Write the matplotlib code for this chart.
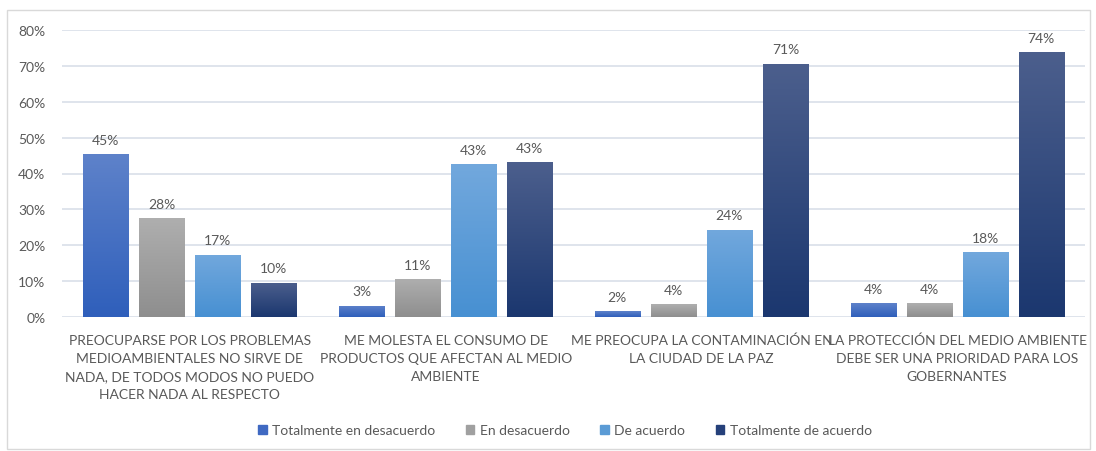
import matplotlib
matplotlib.use("Agg")
import matplotlib.pyplot as plt
import numpy as np
from matplotlib.colors import LinearSegmentedColormap
from matplotlib.patches import Rectangle
from matplotlib.ticker import PercentFormatter

categories = [
    "PREOCUPARSE POR LOS PROBLEMAS\nMEDIOAMBIENTALES NO SIRVE DE\nNADA, DE TODOS MODOS NO PUEDO\nHACER NADA AL RESPECTO",
    "ME MOLESTA EL CONSUMO DE\nPRODUCTOS QUE AFECTAN AL MEDIO\nAMBIENTE",
    "ME PREOCUPA LA CONTAMINACIÓN EN\nLA CIUDAD DE LA PAZ",
    "LA PROTECCIÓN DEL MEDIO AMBIENTE\nDEBE SER UNA PRIORIDAD PARA LOS\nGOBERNANTES",
]
series_names = ["Totalmente en desacuerdo", "En desacuerdo", "De acuerdo", "Totalmente de acuerdo"]
totalmente_desacuerdo = [45.3, 3.2, 1.6, 3.9]
en_desacuerdo = [27.6, 10.6, 3.6, 3.9]
de_acuerdo = [17.4, 42.6, 24.3, 18.0]
totalmente_acuerdo = [9.6, 43.2, 70.6, 73.9]
series_values = [totalmente_desacuerdo, en_desacuerdo, de_acuerdo, totalmente_acuerdo]

# gradient (top, bottom) and legend colours
grad_colors = [("#5E82CA", "#2F5FBB"), ("#AFAFAF", "#8E8E8E"), ("#72A8DD", "#4790D2"), ("#4C5F8D", "#1B376F")]
legend_colors = ["#3F69C2", "#A0A0A0", "#5B9BD5", "#25407A"]

plt.rcParams['font.family'] = ['Lato', 'DejaVu Sans']
text_color = "#595959"

fig = plt.figure(figsize=(10.96, 4.52), dpi=100)
ax = fig.add_axes([62/1096, 134/452, (1085-62)/1096, (318-31)/452])

x = np.arange(len(categories))
width = 0.176
step = 0.219
grad = np.linspace(1, 0, 256).reshape(-1, 1)
for i, (vals, (ctop, cbot)) in enumerate(zip(series_values, grad_colors)):
    offs = (i - 1.5) * step
    fr = [v / 100 for v in vals]
    bars = ax.bar(x + offs, fr, width, color=ctop, zorder=2, label=series_names[i])
    cmap = LinearSegmentedColormap.from_list("g%d" % i, [cbot, ctop])
    for b, v in zip(bars, vals):
        bx, by = b.get_x(), b.get_y()
        bw, bh = b.get_width(), b.get_height()
        im = ax.imshow(grad, cmap=cmap, extent=[bx, bx + bw, by, by + bh],
                       aspect='auto', zorder=3, origin='upper', vmin=0, vmax=1)
        im.set_clip_path(b)
        ax.annotate("%d%%" % round(v), (bx + bw / 2, by + bh), xytext=(0, 6),
                    textcoords='offset points', ha='center', va='bottom',
                    fontsize=10, color=text_color, zorder=4)

ax.set_xlim(-0.5, 3.5)
ax.set_ylim(0, 0.8)
ax.set_yticks(np.arange(0, 0.81, 0.1))
ax.yaxis.set_major_formatter(PercentFormatter(1.0, decimals=0))
ax.set_xticks(x)
ax.set_xticklabels(categories, fontsize=10, color=text_color, linespacing=1.6)
ax.tick_params(axis='x', length=0, pad=12)
ax.tick_params(axis='y', length=0, pad=12, labelsize=10, labelcolor=text_color)
for s in ax.spines.values():
    s.set_visible(False)
ax.grid(axis='y', color="#DCE2EA", linewidth=1.3, zorder=0)
ax.set_axisbelow(True)

handles = [Rectangle((0, 0), 1, 1, color=c) for c in legend_colors]
fig.legend(handles, series_names, loc='center', bbox_to_anchor=(565/1096, 1 - 431/452),
           ncol=4, frameon=False, fontsize=10, labelcolor=text_color,
           handlelength=0.6, handleheight=0.6, handletextpad=0.4, columnspacing=2.2)

fig.patches.append(Rectangle((7/1096, 2/452), (1090-7)/1096, (439)/452, transform=fig.transFigure,
                             fill=False, edgecolor="#D9D9D9", linewidth=1))

fig.savefig("out.png", dpi=100)
